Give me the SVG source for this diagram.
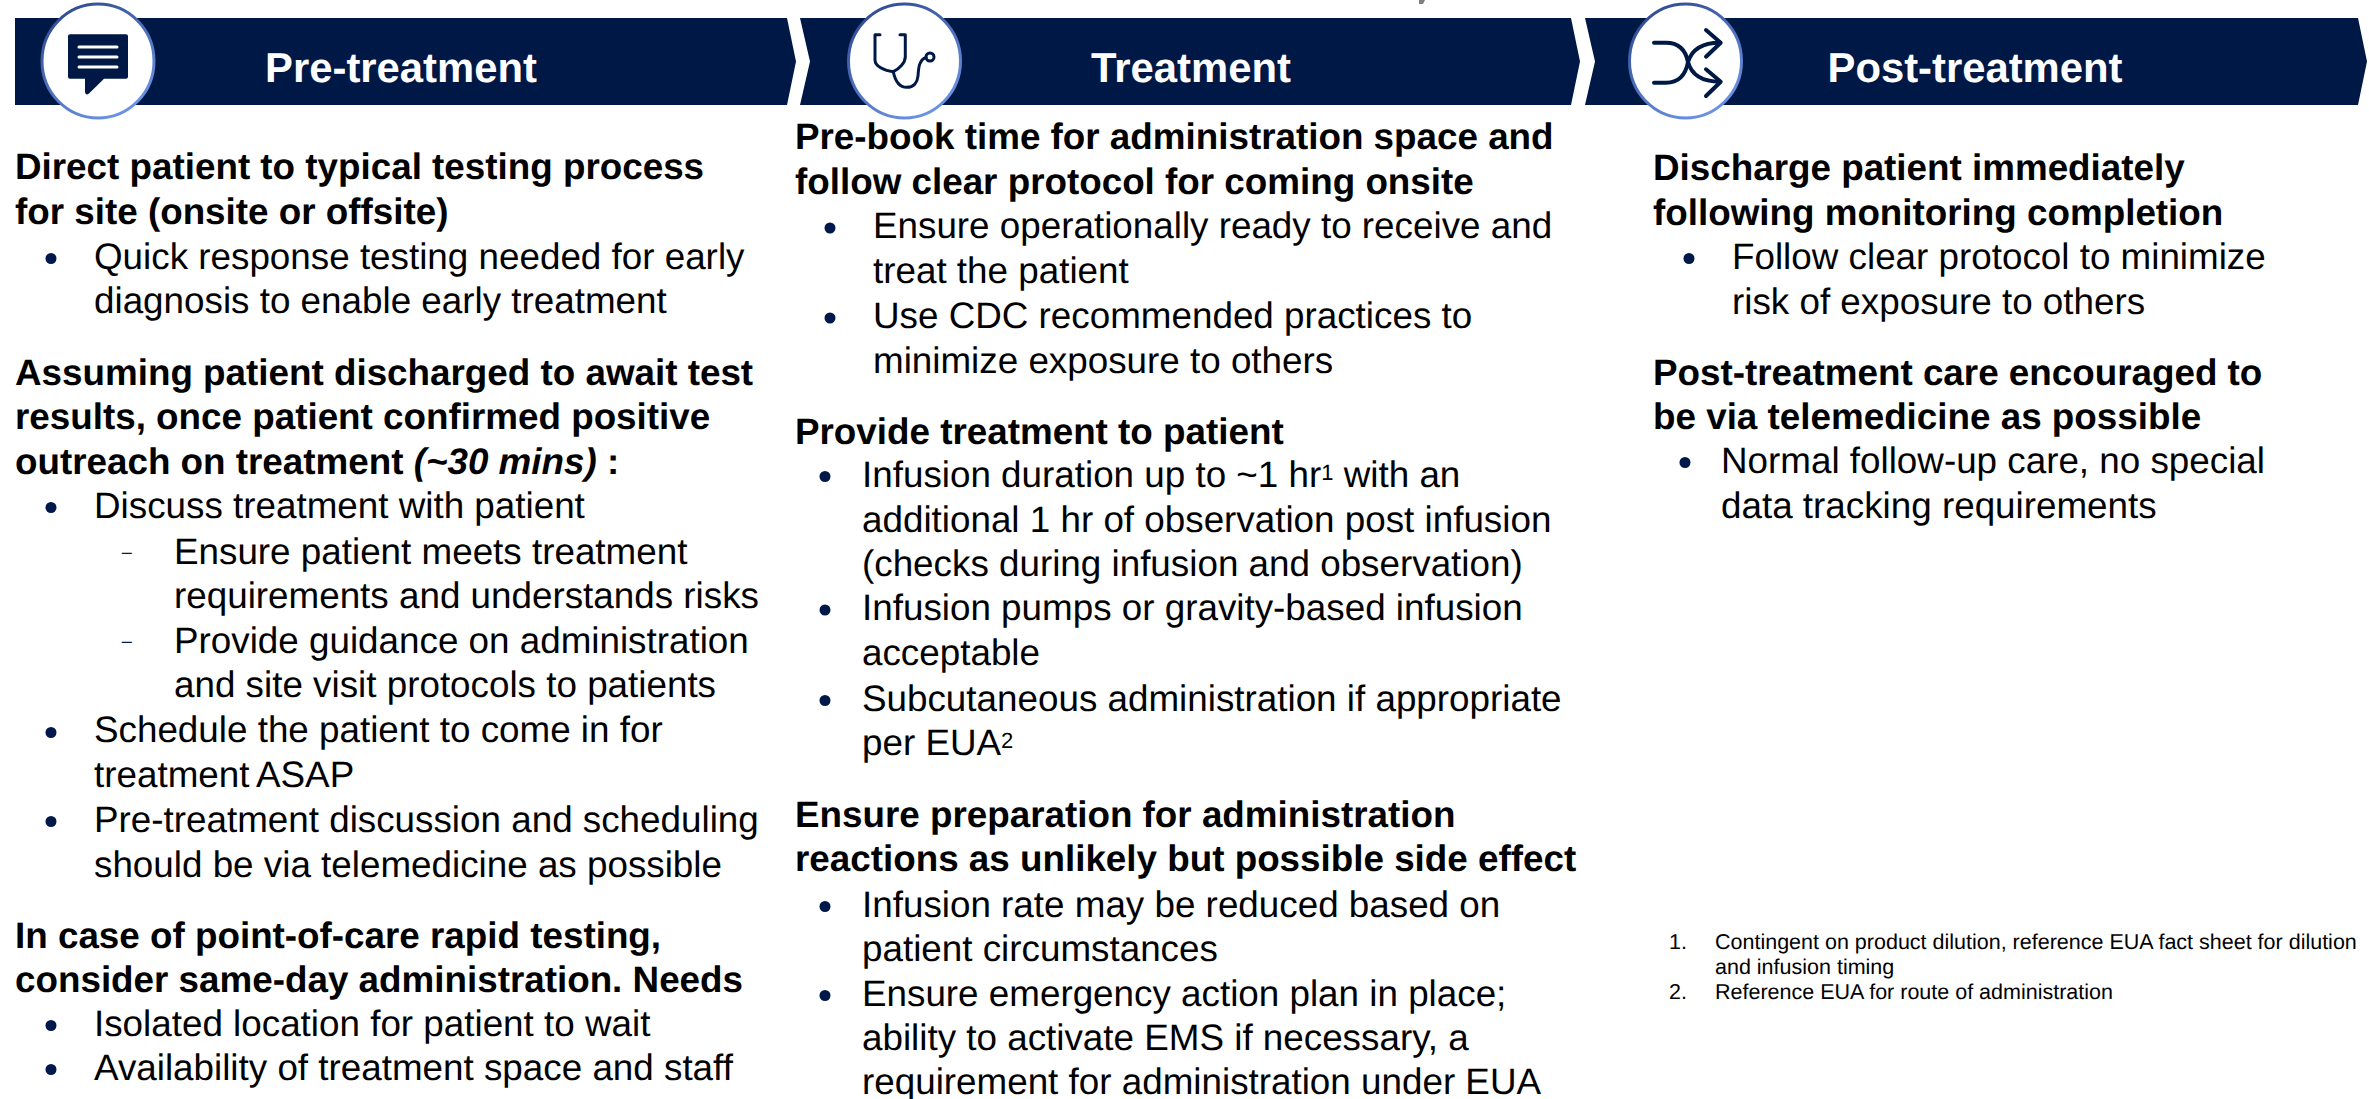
<svg xmlns="http://www.w3.org/2000/svg" width="2369" height="1099" viewBox="0 0 2369 1099">
<style>
text{font-family:"Liberation Sans",Arial,sans-serif;fill:#000;text-rendering:geometricPrecision}
.h{font-size:41.800px;font-weight:700;fill:#fff;text-anchor:middle}
.b{font-size:36.800px;font-weight:700}
.t{font-size:36.800px}
.f{font-size:21.500px}
.d{font-size:18px;fill:#00184a}
.sup{font-size:22px}
.band{fill:#001845}
.ring{fill:#fff;stroke:url(#rg);stroke-width:3}
.dot{fill:#00184a}
.ic{fill:none;stroke:#001845;stroke-linecap:round;stroke-linejoin:round}
</style>
<defs>
<linearGradient id="rg" x1="0.2" y1="0" x2="0.8" y2="1"><stop offset="0" stop-color="#2f4a8f"/><stop offset="1" stop-color="#6f97ea"/></linearGradient>
</defs>
<path d="M1419 0h6l-2 4h-4z" fill="#7f7f7f"/>
<g id="header-pre">
<path class="band" d="M15 18H787L796 61.500L787 105H15Z"/>
<ellipse class="ring" cx="98" cy="61" rx="56" ry="57"/>
<path fill="#001845" d="M70 34.300H126A2 2 0 0 1 128 36.300V76.700A2 2 0 0 1 126 78.700H104L89 93.500Q85.500 96 85 92V78.700H70A2 2 0 0 1 68 76.700V36.300A2 2 0 0 1 70 34.300Z"/>
<path stroke="#fff" stroke-width="3" stroke-linecap="round" d="M79 47H117M79 57H117M79 67H117"/>
<text class="h" x="401" y="82">Pre-treatment</text>
</g>
<g id="header-treatment">
<path class="band" d="M800 18H1571L1580 61.500L1571 105H800L810 61.500Z"/>
<ellipse class="ring" cx="904.500" cy="61" rx="56" ry="57"/>
<g class="ic" stroke-width="3">
<path d="M880 34.700H875V60C875 66 884 71 893.300 71.700C899 69 905.300 63 905.300 56.700V34.700H900"/>
<path d="M893.300 71.700C895 80 899 87.300 906.700 87.300C914 87.300 917.500 82 918 76C918.500 68 919 60 926 57.300"/>
<circle cx="930" cy="57" r="4"/>
</g>
<text class="h" x="1191" y="82">Treatment</text>
</g>
<g id="header-post">
<path class="band" d="M1585 18H2358L2367 61.500L2358 105H1585L1595 61.500Z"/>
<ellipse class="ring" cx="1685.500" cy="61" rx="56" ry="57"/>
<g class="ic" stroke-width="4">
<path d="M1654 42.700H1666C1680 42.700 1686 52 1688 62C1691 73 1699 81.700 1720 81.700"/>
<path d="M1654 82.700H1666C1680 82.700 1686 73 1688 62C1691 52 1699 42.700 1720 42.700"/>
<path d="M1706 30L1720.700 42.700L1706 56.700M1706 69.300L1720.700 81.700L1706 96"/>
</g>
<text class="h" x="1975" y="82">Post-treatment</text>
</g>
<g id="column-pre">
<text class="b" x="15" y="179">Direct patient to typical testing process</text>
<text class="b" x="15" y="224">for site (onsite or offsite)</text>
<circle class="dot" cx="51" cy="258.500" r="5.500"/>
<text class="t" x="94" y="268.500">Quick response testing needed for early</text>
<text class="t" x="94" y="313">diagnosis to enable early treatment</text>
<text class="b" x="15" y="384.500">Assuming patient discharged to await test</text>
<text class="b" x="15" y="428.500">results, once patient confirmed positive</text>
<text class="b" x="15" y="473.500">outreach on treatment <tspan font-style="italic">(~30 mins)</tspan> :</text>
<circle class="dot" cx="51" cy="507.500" r="5.500"/>
<text class="t" x="94" y="517.500">Discuss treatment with patient</text>
<text class="d" x="121.700" y="557.500">–</text>
<text class="t" x="174" y="563.500">Ensure patient meets treatment</text>
<text class="t" x="174" y="608">requirements and understands risks</text>
<text class="d" x="121.700" y="646.500">–</text>
<text class="t" x="174" y="652.500">Provide guidance on administration</text>
<text class="t" x="174" y="697">and site visit protocols to patients</text>
<circle class="dot" cx="51" cy="732.500" r="5.500"/>
<text class="t" x="94" y="742">Schedule the patient to come in for</text>
<text class="t" x="94" y="786.700">treatment<tspan x="256">ASAP</tspan></text>
<circle class="dot" cx="51" cy="821.500" r="5.500"/>
<text class="t" x="94" y="831.500">Pre-treatment discussion and scheduling</text>
<text class="t" x="94" y="876.500">should be via telemedicine as possible</text>
<text class="b" x="15" y="947.500">In case of point-of-care rapid testing,</text>
<text class="b" x="15" y="991.500">consider same-day administration. Needs</text>
<circle class="dot" cx="51" cy="1025.500" r="5.500"/>
<text class="t" x="94" y="1035.500">Isolated location for patient to wait</text>
<circle class="dot" cx="51" cy="1069.500" r="5.500"/>
<text class="t" x="94" y="1079.500">Availability of treatment space and staff</text>
</g>
<g id="column-treatment">
<text class="b" x="795" y="148.500">Pre-book time for administration space and</text>
<text class="b" x="795" y="193.500">follow clear protocol for coming onsite</text>
<circle class="dot" cx="830" cy="228" r="5.500"/>
<text class="t" x="873" y="238">Ensure operationally ready to receive and</text>
<text class="t" x="873" y="283">treat the patient</text>
<circle class="dot" cx="830" cy="318" r="5.500"/>
<text class="t" x="873" y="328">Use CDC recommended practices to</text>
<text class="t" x="873" y="373">minimize exposure to others</text>
<text class="b" x="795" y="443.500">Provide treatment to patient</text>
<circle class="dot" cx="825" cy="476.500" r="5.500"/>
<text class="t" x="862" y="486.700">Infusion duration up to ~1 hr<tspan class="sup" dy="-6.500">1</tspan><tspan dy="6.500"> with an</tspan></text>
<text class="t" x="862" y="531.500">additional 1 hr of observation post infusion</text>
<text class="t" x="862" y="575.700">(checks during infusion and observation)</text>
<circle class="dot" cx="825" cy="610" r="5.500"/>
<text class="t" x="862" y="620">Infusion pumps or gravity-based infusion</text>
<text class="t" x="862" y="665">acceptable</text>
<circle class="dot" cx="825" cy="700.500" r="5.500"/>
<text class="t" x="862" y="710.500">Subcutaneous administration if appropriate</text>
<text class="t" x="862" y="754.500">per EUA<tspan class="sup" dy="-6.500">2</tspan></text>
<text class="b" x="795" y="826.500">Ensure preparation for administration</text>
<text class="b" x="795" y="870.500">reactions as unlikely but possible side effect</text>
<circle class="dot" cx="825" cy="906.500" r="5.500"/>
<text class="t" x="862" y="916.500">Infusion rate may be reduced based on</text>
<text class="t" x="862" y="960.500">patient circumstances</text>
<circle class="dot" cx="825" cy="995.500" r="5.500"/>
<text class="t" x="862" y="1005.500">Ensure emergency action plan in place;</text>
<text class="t" x="862" y="1049.500">ability to activate EMS if necessary, a</text>
<text class="t" x="862" y="1093.500">requirement for administration under EUA</text>
</g>
<g id="column-post">
<text class="b" x="1653" y="179.500">Discharge patient immediately</text>
<text class="b" x="1653" y="224.500">following monitoring completion</text>
<circle class="dot" cx="1689" cy="258.500" r="5.500"/>
<text class="t" x="1732" y="268.500">Follow clear protocol to minimize</text>
<text class="t" x="1732" y="313.500">risk of exposure to others</text>
<text class="b" x="1653" y="384.500">Post-treatment care encouraged to</text>
<text class="b" x="1653" y="428.500">be via telemedicine as possible</text>
<circle class="dot" cx="1685" cy="462.500" r="5.500"/>
<text class="t" x="1721" y="472.500">Normal follow-up care, no special</text>
<text class="t" x="1721" y="517.500">data tracking requirements</text>
</g>
<g id="footnotes">
<text class="f" x="1669" y="949">1.</text>
<text class="f" x="1715" y="949">Contingent on product dilution, reference EUA fact sheet for dilution</text>
<text class="f" x="1715" y="974">and infusion timing</text>
<text class="f" x="1669" y="999">2.</text>
<text class="f" x="1715" y="999">Reference EUA for route of administration</text>
</g>
</svg>
